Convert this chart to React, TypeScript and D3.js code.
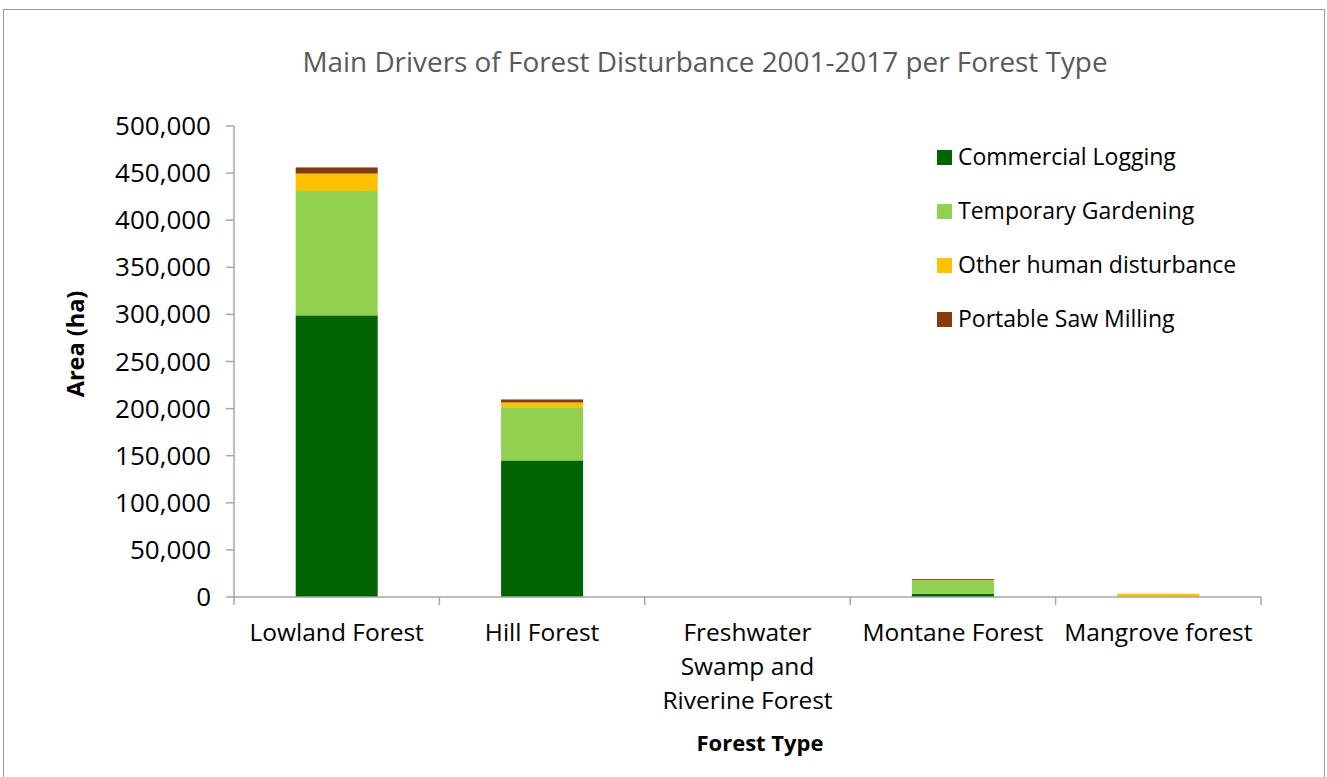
import React from "react";
import * as d3 from "d3";

const categories = ["Lowland Forest", "Hill Forest", "Freshwater Swamp and Riverine Forest", "Montane Forest", "Mangrove forest"];
const categoryLines = [["Lowland Forest"], ["Hill Forest"], ["Freshwater", "Swamp and", "Riverine Forest"], ["Montane Forest"], ["Mangrove forest"]];
const seriesNames = ["Commercial Logging", "Temporary Gardening", "Other human disturbance", "Portable Saw Milling"];
const commercialLogging = [299000, 145000, 0, 3500, 0];
const temporaryGardening = [132000, 56500, 0, 14000, 0];
const otherHuman = [18500, 5000, 0, 300, 3500];
const portableSawMilling = [6500, 3200, 0, 1200, 0];
const yTicks = [0, 50000, 100000, 150000, 200000, 250000, 300000, 350000, 400000, 450000, 500000];
const colors = ["#006400", "#92D050", "#FFC000", "#843C0C"];

const W = 1327, H = 777;
const plotLeft = 234, plotRight = 1261, plotTop = 126, plotBottom = 597;

export default function App() {
  const xStep = d3.scaleBand<string>().domain(categories).range([plotLeft, plotRight]);
  const y = d3.scaleLinear().domain([0, 500000]).range([plotBottom, plotTop]);
  const rows = categories.map((c, i) => ({
    cat: c,
    s0: commercialLogging[i],
    s1: temporaryGardening[i],
    s2: otherHuman[i],
    s3: portableSawMilling[i],
  }));
  const stack = d3.stack<any>().keys(["s0", "s1", "s2", "s3"])(rows);
  const fmt = d3.format(",");
  const font = "'Open Sans', sans-serif";
  const bw = 82;
  return (
    <svg width={W} height={H} style={{ position: "absolute", left: 0, top: 0, background: "#fff" }} fontFamily={font}>
      <rect x={3.5} y={9.5} width={1321} height={800} fill="#fff" stroke="#9a9a9a" strokeWidth={1} />
      <text x={705} y={72} textAnchor="middle" fontSize={27.9} fill="#595959">Main Drivers of Forest Disturbance 2001-2017 per Forest Type</text>
      {yTicks.map((t) => (
        <g key={t}>
          <line x1={plotLeft - 8} x2={plotLeft} y1={y(t)} y2={y(t)} stroke="#a6a6a6" strokeWidth={1.5} />
          <text x={211} y={y(t) + 9} textAnchor="end" fontSize={26} fill="#000">{fmt(t)}</text>
        </g>
      ))}
      <line x1={plotLeft} x2={plotLeft} y1={plotTop} y2={plotBottom} stroke="#a6a6a6" strokeWidth={1.5} />
      {stack.map((layer, li) => (
        <g key={li} fill={colors[li]}>
          {layer.map((d, i) => {
            const h = y(d[0]) - y(d[1]);
            if (h <= 0) return null;
            const cx = (xStep(categories[i]) as number) + xStep.bandwidth() / 2;
            return <rect key={i} x={cx - bw / 2} y={y(d[1])} width={bw} height={h} />;
          })}
        </g>
      ))}
      <line x1={plotLeft} x2={plotRight} y1={plotBottom} y2={plotBottom} stroke="#a6a6a6" strokeWidth={1.5} />
      {categories.map((c, i) => (
        <line key={"t" + i} x1={xStep(c) as number} x2={xStep(c) as number} y1={plotBottom} y2={plotBottom + 8} stroke="#a6a6a6" strokeWidth={1.5} />
      ))}
      <line x1={plotRight} x2={plotRight} y1={plotBottom} y2={plotBottom + 8} stroke="#a6a6a6" strokeWidth={1.5} />
      {categories.map((c, i) => (
        <text key={"l" + i} textAnchor="middle" fontSize={24.5} fill="#000">
          {categoryLines[i].map((ln, j) => (
            <tspan key={j} x={(xStep(c) as number) + xStep.bandwidth() / 2} y={641 + j * 34}>{ln}</tspan>
          ))}
        </text>
      ))}
      <text x={760} y={751} textAnchor="middle" fontSize={22} fontWeight="bold" fill="#000">Forest Type</text>
      <text transform={`translate(84,344) rotate(-90)`} textAnchor="middle" fontSize={23.5} fontWeight="bold" fill="#000">Area (ha)</text>
      {seriesNames.map((s, i) => (
        <g key={s}>
          <rect x={937} y={150 + i * 54} width={15} height={15} fill={colors[i]} />
          <text x={958} y={165 + i * 54} fontSize={23} fill="#000">{s}</text>
        </g>
      ))}
    </svg>
  );
}
